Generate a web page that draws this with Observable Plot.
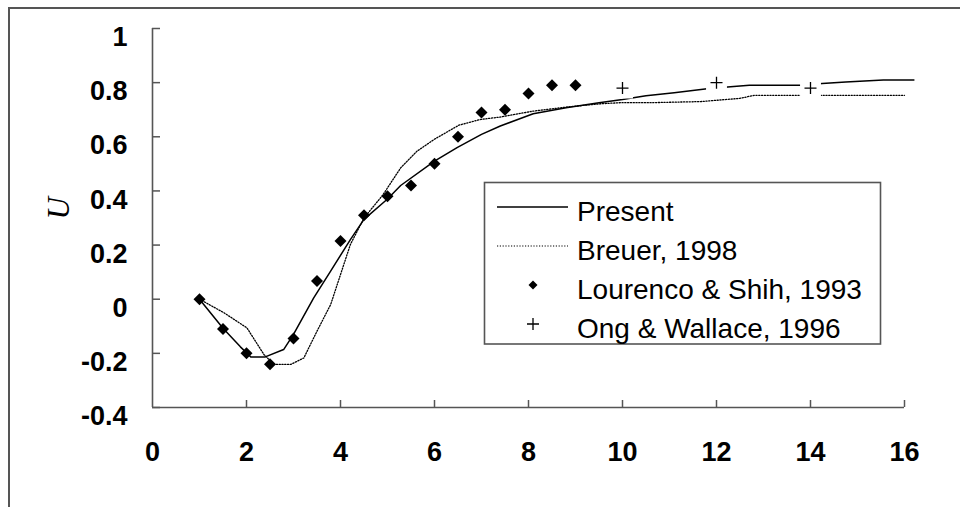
<!DOCTYPE html>
<html>
<head>
<meta charset="utf-8">
<script src="https://cdn.jsdelivr.net/npm/d3@7"></script>
<script src="https://cdn.jsdelivr.net/npm/@observablehq/plot@0.6"></script>
<style>
  html, body { margin: 0; padding: 0; background: #fff; }
  #chart { position: relative; width: 960px; height: 507px; overflow: hidden; background: #fff; }
  #chart svg { display: block; }
  .frame-top { position: absolute; left: 8px; top: 7px; width: 952px; height: 0; border-top: 2px solid #555; }
  .frame-left { position: absolute; left: 8px; top: 7px; width: 0; height: 500px; border-left: 2px solid #555; }
  #legend { position: absolute; left: 0; top: 0; pointer-events: none; }
</style>
</head>
<body>
<div id="chart">
  <div class="frame-top"></div>
  <div class="frame-left"></div>
</div>
<script>
// Streamwise velocity U along the wake centreline

// Present computation
const presentX = [1.0, 1.5, 1.87, 2.09, 2.4, 2.79, 3.0, 3.43, 3.79, 4.21, 4.5, 5.0, 5.28, 6.0, 6.48, 7.0, 7.4, 8.1, 8.8, 9.5, 10.0, 10.5, 11.1, 11.8, 12.3, 12.7, 13.8, 14.25, 14.75, 15.55, 16.2];
const presentU = [0.0, -0.107, -0.176, -0.213, -0.213, -0.186, -0.13, 0.005, 0.104, 0.22, 0.295, 0.37, 0.42, 0.51, 0.56, 0.609, 0.64, 0.685, 0.707, 0.726, 0.738, 0.752, 0.763, 0.777, 0.785, 0.79, 0.79, 0.797, 0.802, 0.81, 0.81];

// Breuer, 1998
const breuerX = [1.0, 1.52, 2.01, 2.37, 2.58, 2.94, 3.22, 3.5, 3.79, 4.0, 4.21, 4.5, 4.9, 5.28, 5.63, 5.99, 6.52, 6.98, 7.4, 8.11, 8.82, 9.53, 9.96, 10.6, 11.66, 12.5, 12.8, 13.8, 16.0];
const breuerU = [0.0, -0.05, -0.106, -0.204, -0.241, -0.241, -0.217, -0.118, -0.02, 0.091, 0.202, 0.3, 0.385, 0.485, 0.547, 0.59, 0.643, 0.664, 0.673, 0.695, 0.71, 0.722, 0.726, 0.726, 0.73, 0.742, 0.753, 0.753, 0.753];

// Lourenco & Shih, 1993 (experiment)
const lourencoX = [1.0, 1.5, 2.0, 2.5, 3.0, 3.5, 4.0, 4.5, 5.0, 5.5, 6.0, 6.5, 7.0, 7.5, 8.0, 8.5, 9.0];
const lourencoU = [0.0, -0.11, -0.2, -0.24, -0.145, 0.067, 0.215, 0.31, 0.38, 0.42, 0.5, 0.6, 0.69, 0.7, 0.76, 0.79, 0.79];

// Ong & Wallace, 1996 (experiment)
const ongX = [10, 12, 14];
const ongU = [0.78, 0.8, 0.78];

const xTicks = [0, 2, 4, 6, 8, 10, 12, 14, 16];
const yTicks = [-0.4, -0.2, 0, 0.2, 0.4, 0.6, 0.8, 1];
const seriesNames = ["Present", "Breuer, 1998", "Lourenco & Shih, 1993", "Ong & Wallace, 1996"];
const yLabel = "U";

const toRows = (xs, us) => xs.map((x, i) => ({x, u: us[i]}));
const present = toRows(presentX, presentU);
const breuer = toRows(breuerX, breuerU);
const lourenco = toRows(lourencoX, lourencoU);
const ong = toRows(ongX, ongU);

const W = 960, H = 507;
const mL = 152, mR = 56, mT = 28, mB = 100;
const axisColor = "#555";
const tickFont = "'Liberation Sans', Arial, Helvetica, sans-serif";
const dotted = "1.2,1.6";

const chart = Plot.plot({
  width: W,
  height: H,
  marginLeft: mL,
  marginRight: mR,
  marginTop: mT,
  marginBottom: mB,
  x: {domain: [0, 16]},
  y: {domain: [-0.4, 1]},
  style: {fontFamily: tickFont, background: "white", color: "black", overflow: "visible"},
  marks: [
    // axis labels
    Plot.axisX(xTicks, {tickSize: 0, tickPadding: 34, fontSize: 27, fontWeight: "bold", fill: "black", label: null, tickFormat: d => String(d)}),
    Plot.axisY(yTicks, {tickSize: 0, tickPadding: 25, dy: 9, fontSize: 27, fontWeight: "bold", fill: "black", label: null, tickFormat: d => String(d)}),
    // axis lines and inward ticks
    Plot.ruleX([0], {stroke: axisColor, strokeWidth: 1.6}),
    Plot.ruleY([-0.4], {stroke: axisColor, strokeWidth: 1.6}),
    Plot.tickX(xTicks.filter(d => d > 0), {x: d => d, stroke: axisColor, strokeWidth: 1.5, insetTop: (H - mT - mB) - 7}),
    Plot.tickY(yTicks, {y: d => d, stroke: axisColor, strokeWidth: 1.5, insetRight: (W - mL - mR) - 8}),
    // y axis title
    Plot.text([yLabel], {text: d => d, frameAnchor: "left", dx: -93, dy: 1.5, rotate: -90,
      fontFamily: "'Liberation Serif', 'Times New Roman', serif", fontStyle: "italic", fontSize: 31, fill: "black"}),
    // simulations
    Plot.line(present, {x: "x", y: "u", stroke: "black", strokeWidth: 1.5}),
    Plot.line(breuer, {x: "x", y: "u", stroke: "black", strokeWidth: 1.3, strokeDasharray: dotted}),
    // white backing behind the + markers
    Plot.dot(ong, {x: "x", y: "u", symbol: "square", r: 11.8, fill: "white", stroke: "none"}),
    // experiments
    Plot.dot(lourenco, {x: "x", y: "u", symbol: "diamond2", r: 5.4, fill: "black", stroke: "none"}),
    Plot.dot(ong, {x: "x", y: "u", symbol: "plus", r: 3.95, stroke: "black", strokeWidth: 1.3, fill: "none"})
  ]
});

const host = document.getElementById("chart");
host.insertBefore(chart, host.firstChild);

// Legend box
const legend = d3.select(host).append("svg")
  .attr("id", "legend")
  .attr("width", W)
  .attr("height", H);

legend.append("rect")
  .attr("x", 484.5).attr("y", 182.5)
  .attr("width", 396).attr("height", 161.5)
  .attr("fill", "white")
  .attr("stroke", axisColor)
  .attr("stroke-width", 1.6);

const rowBase = 221, rowStep = 39, markX = 533, textX = 577;

seriesNames.forEach((name, i) => {
  const base = rowBase + rowStep * i;
  const my = base - 14;
  const g = legend.append("g");
  if (i === 0) {
    g.append("line").attr("x1", 497).attr("x2", 568).attr("y1", my).attr("y2", my)
      .attr("stroke", "black").attr("stroke-width", 1.3);
  } else if (i === 1) {
    g.append("line").attr("x1", 497).attr("x2", 568).attr("y1", my).attr("y2", my)
      .attr("stroke", "black").attr("stroke-width", 1.2).attr("stroke-dasharray", dotted);
  } else if (i === 2) {
    g.append("path").attr("d", d3.symbol(d3.symbolDiamond2, 52)())
      .attr("transform", `translate(${markX},${my})`).attr("fill", "black");
  } else {
    g.append("path").attr("d", `M${markX - 6},${my}H${markX + 6}M${markX},${my - 6}V${my + 6}`)
      .attr("stroke", "black").attr("stroke-width", 1.3).attr("fill", "none");
  }
  g.append("text")
    .attr("x", textX).attr("y", base)
    .attr("font-family", tickFont)
    .attr("font-size", 28)
    .attr("fill", "black")
    .text(name);
});
</script>
</body>
</html>
